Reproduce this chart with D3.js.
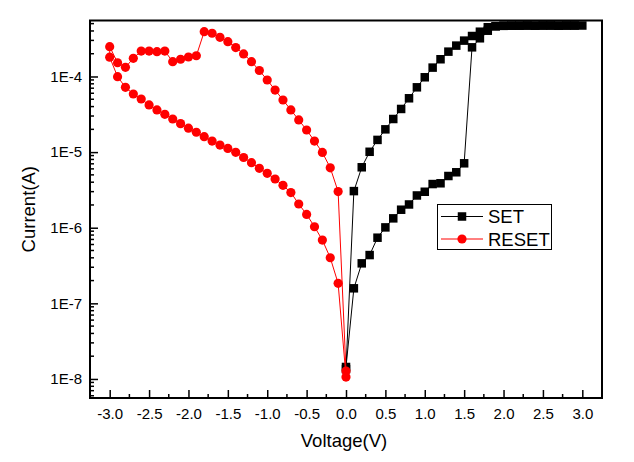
<!DOCTYPE html>
<html>
<head>
<meta charset="utf-8">
<script src="https://cdn.jsdelivr.net/npm/d3@7"></script>
<style>
  html, body { margin: 0; padding: 0; background: #fff; }
  svg { display: block; font-family: "Liberation Sans", Arial, sans-serif; }
</style>
</head>
<body>
<svg id="chart" width="634" height="462"></svg>
<script>
// ---- data ----
const setV = [0.0,0.1,0.2,0.3,0.4,0.5,0.6,0.7,0.8,0.9,1.0,1.1,1.2,1.3,1.4,1.5,1.6,1.7,1.8,1.9,2.0,2.1,2.2,2.3,2.4,2.5,2.6,2.7,2.8,2.9,3.0,
              2.9,2.8,2.7,2.6,2.5,2.4,2.3,2.2,2.1,2.0,1.9,1.8,1.7,1.6,1.5,1.4,1.3,1.2,1.1,1.0,0.9,0.8,0.7,0.6,0.5,0.4,0.3,0.2,0.1,0.0];
const setI = [1.44e-8,1.58e-7,3.38e-7,4.35e-7,7.38e-7,1.01e-6,1.33e-6,1.73e-6,2.03e-6,2.67e-6,2.99e-6,3.78e-6,3.87e-6,4.83e-6,5.41e-6,7.11e-6,
              2.43e-4,3.20e-4,4.03e-4,4.62e-4,4.68e-4,4.70e-4,4.70e-4,4.72e-4,4.70e-4,4.72e-4,4.72e-4,4.70e-4,4.72e-4,4.72e-4,4.72e-4,
              4.72e-4,4.72e-4,4.70e-4,4.72e-4,4.72e-4,4.70e-4,4.72e-4,4.70e-4,4.70e-4,4.68e-4,4.62e-4,4.48e-4,3.91e-4,3.43e-4,2.98e-4,2.56e-4,
              2.13e-4,1.69e-4,1.31e-4,9.76e-5,7.19e-5,5.15e-5,3.72e-5,2.74e-5,2.00e-5,1.45e-5,1.01e-5,6.30e-6,3.05e-6,1.35e-8];

const resetV = [0.0,-0.1,-0.2,-0.3,-0.4,-0.5,-0.6,-0.7,-0.8,-0.9,-1.0,-1.1,-1.2,-1.3,-1.4,-1.5,-1.6,-1.7,-1.8,-1.9,-2.0,-2.1,-2.2,-2.3,-2.4,-2.5,-2.6,-2.7,-2.8,-2.9,-3.0,
                -3.0,-2.9,-2.8,-2.7,-2.6,-2.5,-2.4,-2.3,-2.2,-2.1,-2.0,-1.9,-1.8,-1.7,-1.6,-1.5,-1.4,-1.3,-1.2,-1.1,-1.0,-0.9,-0.8,-0.7,-0.6,-0.5,-0.4,-0.3,-0.2,-0.1,0.0];
const resetI = [1.27e-8,3.01e-6,6.20e-6,9.90e-6,1.40e-5,1.96e-5,2.66e-5,3.61e-5,4.89e-5,6.62e-5,8.99e-5,1.20e-4,1.57e-4,1.99e-4,2.41e-4,2.89e-4,
                3.30e-4,3.73e-4,3.91e-4,1.88e-4,1.81e-4,1.69e-4,1.57e-4,2.17e-4,2.13e-4,2.17e-4,2.17e-4,1.74e-4,1.32e-4,1.52e-4,2.48e-4,
                1.80e-4,9.94e-5,7.19e-5,5.87e-5,5.04e-5,4.20e-5,3.61e-5,3.16e-5,2.74e-5,2.38e-5,2.07e-5,1.83e-5,1.60e-5,1.40e-5,1.24e-5,
                1.12e-5,9.93e-6,8.49e-6,7.24e-6,6.11e-6,5.24e-6,4.41e-6,3.64e-6,2.92e-6,2.06e-6,1.50e-6,1.03e-6,6.87e-7,4.01e-7,1.84e-7,1.06e-8];

const xTicks = [-3.0,-2.5,-2.0,-1.5,-1.0,-0.5,0.0,0.5,1.0,1.5,2.0,2.5,3.0];
const xTickLabels = ["-3.0","-2.5","-2.0","-1.5","-1.0","-0.5","0.0","0.5","1.0","1.5","2.0","2.5","3.0"];
const yTicks = [1e-8,1e-7,1e-6,1e-5,1e-4];
const yTickLabels = ["1E-8","1E-7","1E-6","1E-5","1E-4"];
const seriesNames = ["SET","RESET"];
const seriesColors = ["#000000","#ff0000"];

// ---- layout ----
const L = 90, R = 602, T = 20.5, B = 398;
const svg = d3.select("#chart");
const x = d3.scaleLinear().domain([-3.25, 3.25]).range([L, R]);
const y = d3.scaleLog().domain([5.6e-9, 5.5e-4]).range([B, T]);

// minor ticks
const xMinor = [];
for (let v = -3.25; v <= 3.2501; v += 0.25) { const r = Math.round(v*100)/100; if (Math.abs(r*2 - Math.round(r*2)) > 1e-6) xMinor.push(r); }
const yMinor = [];
for (let e = -9; e <= -4; e++) for (let k = 2; k <= 9; k++) { const v = k * Math.pow(10, e); if (v >= 5.6e-9 && v <= 5.5e-4) yMinor.push(v); }

// bottom axis (ticks inward)
const gx = svg.append("g").attr("transform", `translate(0,${B})`);
gx.call(d3.axisBottom(x).tickValues(xTicks).tickSize(-8).tickFormat((d,i) => xTickLabels[i]));
gx.call(g => g.select(".domain").remove());
gx.selectAll(".tick line").attr("stroke", "#000").attr("stroke-width", 1.5);
gx.selectAll(".tick text").attr("y", 10).attr("font-size", 15).attr("fill", "#000").attr("font-family", "Liberation Sans, Arial, sans-serif");
gx.selectAll("line.minor").data(xMinor).enter().append("line").attr("class","minor")
  .attr("x1", d => x(d)).attr("x2", d => x(d)).attr("y1", 0).attr("y2", -4).attr("stroke", "#000").attr("stroke-width", 1.5);

// left axis (ticks inward)
const gy = svg.append("g").attr("transform", `translate(${L},0)`);
gy.call(d3.axisLeft(y).tickValues(yTicks).tickSize(-8).tickFormat((d,i) => yTickLabels[i]));
gy.call(g => g.select(".domain").remove());
gy.selectAll(".tick line").attr("stroke", "#000").attr("stroke-width", 1.5);
gy.selectAll(".tick text").attr("x", -8).attr("font-size", 15).attr("fill", "#000").attr("font-family", "Liberation Sans, Arial, sans-serif");
gy.selectAll("line.minor").data(yMinor).enter().append("line").attr("class","minor")
  .attr("y1", d => y(d)).attr("y2", d => y(d)).attr("x1", 0).attr("x2", 4).attr("stroke", "#000").attr("stroke-width", 1.5);

// frame
svg.append("rect").attr("x", L).attr("y", T).attr("width", R - L).attr("height", B - T)
  .attr("fill", "none").attr("stroke", "#000").attr("stroke-width", 2);

// axis titles
svg.append("text").attr("x", 344).attr("y", 447).attr("text-anchor", "middle")
  .attr("font-size", 18.5).attr("fill", "#000").text("Voltage(V)");
svg.append("text").attr("transform", `translate(35,${(T + B) / 2}) rotate(-90)`).attr("text-anchor", "middle")
  .attr("font-size", 18.5).attr("fill", "#000").text("Current(A)");

// series
const line = d3.line().x(d => x(d[0])).y(d => y(d[1]));
const setData = setV.map((v, i) => [v, setI[i]]);
const resetData = resetV.map((v, i) => [v, resetI[i]]);

svg.append("path").datum(setData).attr("d", line).attr("fill", "none").attr("stroke", seriesColors[0]).attr("stroke-width", 1);
svg.append("g").selectAll("rect").data(setData).enter().append("rect")
  .attr("x", d => x(d[0]) - 4.25).attr("y", d => y(d[1]) - 4.25).attr("width", 8.5).attr("height", 8.5).attr("fill", seriesColors[0]);

svg.append("path").datum(resetData).attr("d", line).attr("fill", "none").attr("stroke", seriesColors[1]).attr("stroke-width", 1);
svg.append("g").selectAll("circle").data(resetData).enter().append("circle")
  .attr("cx", d => x(d[0])).attr("cy", d => y(d[1])).attr("r", 4.6).attr("fill", seriesColors[1]);

// legend
const lg = svg.append("g");
lg.append("rect").attr("x", 437.5).attr("y", 204.5).attr("width", 114).attr("height", 45)
  .attr("fill", "#fff").attr("stroke", "#000").attr("stroke-width", 1);
seriesNames.forEach((name, i) => {
  const cy = 216.5 + i * 22.5;
  lg.append("line").attr("x1", 441).attr("x2", 483).attr("y1", cy).attr("y2", cy).attr("stroke", seriesColors[i]).attr("stroke-width", 1);
  if (i === 0) lg.append("rect").attr("x", 462 - 4.25).attr("y", cy - 4.25).attr("width", 8.5).attr("height", 8.5).attr("fill", seriesColors[i]);
  else lg.append("circle").attr("cx", 462).attr("cy", cy).attr("r", 4.6).attr("fill", seriesColors[i]);
  lg.append("text").attr("x", 488).attr("y", cy + 6.5).attr("font-size", 18.5).attr("fill", "#000").text(name);
});
</script>
</body>
</html>
